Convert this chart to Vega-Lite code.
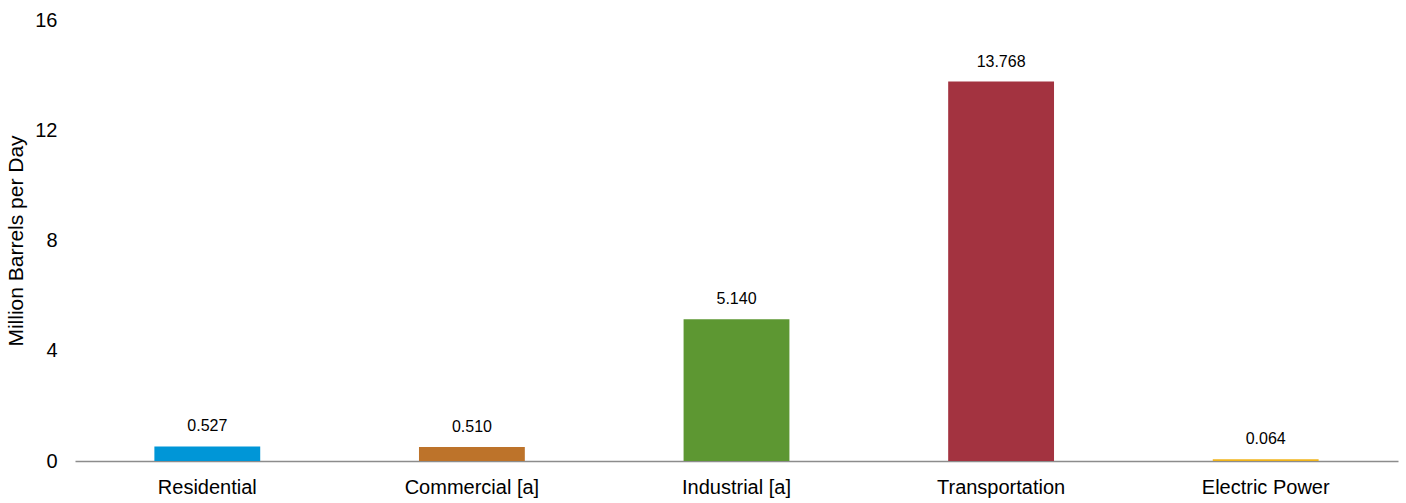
{
  "$schema": "https://vega.github.io/schema/vega-lite/v6.json",
  "autosize": {"type": "none"},
  "width": 1323,
  "height": 441,
  "padding": {"left": 75, "top": 20, "right": 8, "bottom": 42},
  "background": "white",
  "config": {"view": {"stroke": null}, "font": "Liberation Sans"},
  "data": {"values": [
    {"sector": "Residential", "value": 0.527, "label": "0.527"},
    {"sector": "Commercial [a]", "value": 0.510, "label": "0.510"},
    {"sector": "Industrial [a]", "value": 5.140, "label": "5.140"},
    {"sector": "Transportation", "value": 13.768, "label": "13.768"},
    {"sector": "Electric Power", "value": 0.064, "label": "0.064"}
  ]},
  "encoding": {
    "x": {"field": "sector", "type": "nominal", "sort": null,
      "scale": {"paddingInner": 0.6, "paddingOuter": 0.3},
      "axis": {"title": null, "labelAngle": 0, "labelFontSize": 20, "labelColor": "#000000", "labelPadding": 16, "ticks": false, "domainColor": "#8c8c8c", "domainWidth": 1.5, "labelFont": "Liberation Sans"}},
    "y": {"field": "value", "type": "quantitative",
      "scale": {"domain": [0, 16]},
      "axis": {"values": [0, 4, 8, 12, 16], "grid": false, "domain": false, "ticks": false, "labelFontSize": 20, "labelColor": "#000000", "labelPadding": 18, "title": "Million Barrels per Day", "titleFontSize": 21, "titleFontWeight": "normal", "titleColor": "#000000", "titlePadding": 8, "labelFont": "Liberation Sans", "titleFont": "Liberation Sans"}}
  },
  "layer": [
    {"mark": {"type": "bar"},
     "encoding": {"color": {"field": "sector", "type": "nominal", "sort": null, "legend": null,
       "scale": {"domain": ["Residential", "Commercial [a]", "Industrial [a]", "Transportation", "Electric Power"],
                 "range": ["#0096D7", "#BD732A", "#5D9732", "#A33340", "#F0B41C"]}}}},
    {"mark": {"type": "text", "baseline": "bottom", "dy": -12, "fontSize": 16, "color": "#000000", "font": "Liberation Sans"},
     "encoding": {"text": {"field": "label"}}}
  ]
}
